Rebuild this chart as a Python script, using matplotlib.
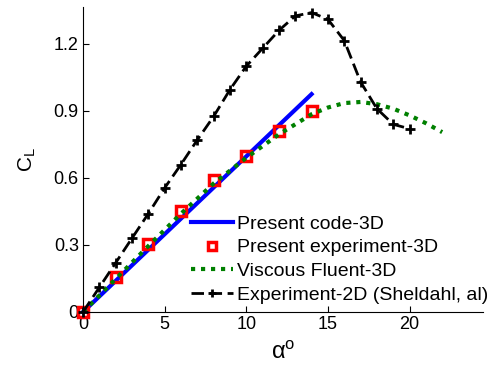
import numpy as np
import matplotlib
matplotlib.use('Agg')
import matplotlib.pyplot as plt

plt.rcParams['font.family'] = ['Liberation Sans', 'DejaVu Sans']
plt.rcParams['mathtext.fontset'] = 'custom'
plt.rcParams['mathtext.rm'] = 'Liberation Sans'
plt.rcParams['mathtext.it'] = 'Liberation Sans'

# present code (3D), straight line
code_alpha = [0, 14]
code_cl = [0, 0.975]

# present experiment (3D)
exp_alpha = [0, 2, 4, 6, 8, 10, 12, 14]
exp_cl = [0, 0.155, 0.303, 0.452, 0.59, 0.70, 0.81, 0.898]

# viscous fluent (3D)
cfd_alpha = [0, 2, 4, 6, 8, 10, 12, 14, 15, 16, 17, 18, 19, 20, 21, 22]
cfd_cl = [0, 0.148, 0.295, 0.44, 0.575, 0.69, 0.795, 0.885, 0.915, 0.935, 0.94,
          0.93, 0.91, 0.88, 0.845, 0.805]

# experiment 2D (Sheldahl)
sh_alpha = [0, 1, 2, 3, 4, 5, 6, 7, 8, 9, 10, 11, 12, 13, 14, 15, 16, 17, 18, 19, 20]
sh_cl = [0, 0.11, 0.22, 0.33, 0.44, 0.555, 0.66, 0.77, 0.875, 0.995, 1.10, 1.18,
         1.26, 1.325, 1.34, 1.31, 1.215, 1.03, 0.91, 0.84, 0.82]

fig = plt.figure(figsize=(4.87, 3.72), dpi=100)
ax = fig.add_axes([83 / 487, 60 / 372, 400 / 487, 305 / 372])

ax.plot(code_alpha, code_cl, color='blue', lw=3, label='Present code-3D', clip_on=False)
ax.plot(exp_alpha, exp_cl, 's', color='red', mfc='none', mew=2.5, ms=7,
        label='Present experiment-3D', clip_on=False)
ax.plot(cfd_alpha, cfd_cl, color=(0, 0.5, 0), lw=3, ls=(0, (1, 1.4)),
        label='Viscous Fluent-3D', clip_on=False)
ax.plot(sh_alpha, sh_cl, color='black', lw=2, ls=(0, (4.5, 2)), marker='+', ms=7, mew=2,
        label='Experiment-2D (Sheldahl, al)', clip_on=False)

ax.set_xlim(0, 24.5)
ax.set_ylim(0, 1.365)
ax.set_xticks([0, 5, 10, 15, 20])
ax.set_yticks([0, 0.3, 0.6, 0.9, 1.2])
ax.set_yticklabels(['0', '0.3', '0.6', '0.9', '1.2'])
ax.tick_params(direction='in', length=4, labelsize=13, pad=3)
ax.spines['top'].set_visible(False)
ax.spines['right'].set_visible(False)

ax.set_xlabel(r'$\mathregular{\alpha^o}$', fontsize=17, labelpad=6)
ax.set_ylabel(r'$\mathregular{C_L}$', fontsize=15, labelpad=11)

leg = ax.legend(loc='upper left', bbox_to_anchor=(191 / 487, 1 - 215 / 372),
                bbox_transform=fig.transFigure, frameon=False, fontsize=14,
                handlelength=2.15, handletextpad=0.2, labelspacing=0.32,
                borderpad=0, borderaxespad=0, markerscale=0.8)

fig.savefig('out.png', dpi=100)
